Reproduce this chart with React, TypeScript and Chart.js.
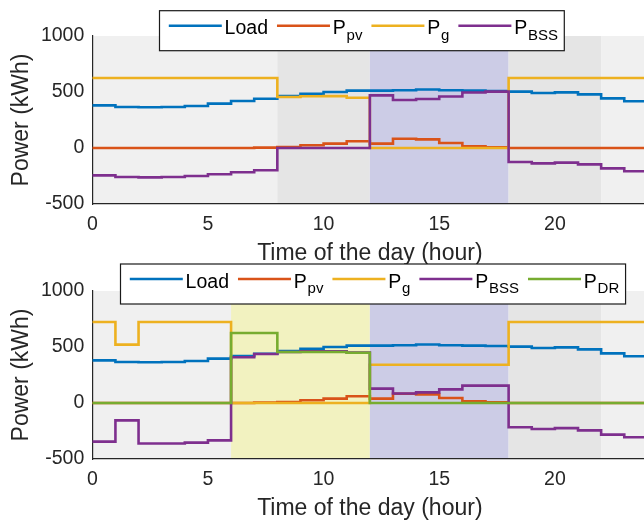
import React, { useEffect, useRef } from "react";
import { Chart, registerables } from "chart.js";

Chart.register(...registerables);

// ---------- data ----------
const hours = [0, 1, 2, 3, 4, 5, 6, 7, 8, 9, 10, 11, 12, 13, 14, 15, 16, 17, 18, 19, 20, 21, 22, 23, 24];
const xTickValues = [0, 5, 10, 15, 20];
const yTickValues = [-500, 0, 500, 1000];

const loadDemand = [381, 366, 364, 366, 375, 396, 420, 440, 464, 485, 500, 512, 512, 515, 522, 516, 512, 509, 503, 491, 497, 479, 443, 417];
const pvPower = [0, 0, 0, 0, 0, 0, 0, 3, 9, 24, 39, 60, 39, 83, 77, 45, 15, 6, 0, 0, 0, 0, 0, 0];

const gridTop = [625, 625, 625, 625, 625, 625, 625, 625, 455, 462, 463, 448, 0, 0, 0, 0, 0, 0, 625, 625, 625, 625, 625, 625];
const bssTop = [-244, -259, -262, -259, -250, -235, -217, -199, 0, 0, 0, 0, 470, 428, 438, 460, 495, 503, -125, -137, -131, -146, -182, -208];

const gridBottom = [723, 521, 723, 723, 723, 723, 0, 0, 0, 0, 0, 0, 342, 342, 342, 342, 342, 342, 723, 723, 723, 723, 723, 723];
const bssBottom = [-345, -155, -362, -362, -354, -334, 408, 437, 455, 461, 462, 450, 128, 85, 95, 122, 155, 155, -216, -232, -224, -244, -282, -306];
const drBottom = [0, 0, 0, 0, 0, 0, 625, 625, 455, 455, 455, 448, 0, 0, 0, 0, 0, 0, 0, 0, 0, 0, 0, 0];

// shaded periods [start hour, end hour, colour]
const bandsTop: [number, number, string][] = [
  [0, 8, "#f0f0f0"],
  [8, 12, "#e5e5e5"],
  [12, 18, "#ccccE6"],
  [18, 22, "#e5e5e5"],
  [22, 24, "#f0f0f0"],
];
const bandsBottom: [number, number, string][] = [
  [0, 6, "#f0f0f0"],
  [6, 12, "#f2f2c0"],
  [12, 18, "#ccccE6"],
  [18, 22, "#e5e5e5"],
  [22, 24, "#f0f0f0"],
];

const C_LOAD = "#0072BD";
const C_PV = "#D95319";
const C_G = "#EDB120";
const C_BSS = "#7E2F8E";
const C_DR = "#77AC30";

const FAMILY = '"Liberation Sans", Arial, Helvetica, sans-serif';
const TEXT = "#262626";

type Series = { main: string; sub: string; color: string; values: number[] };

const seriesTop: Series[] = [
  { main: "Load", sub: "", color: C_LOAD, values: loadDemand },
  { main: "P", sub: "pv", color: C_PV, values: pvPower },
  { main: "P", sub: "g", color: C_G, values: gridTop },
  { main: "P", sub: "BSS", color: C_BSS, values: bssTop },
];
const seriesBottom: Series[] = [
  { main: "Load", sub: "", color: C_LOAD, values: loadDemand },
  { main: "P", sub: "pv", color: C_PV, values: pvPower },
  { main: "P", sub: "g", color: C_G, values: gridBottom },
  { main: "P", sub: "BSS", color: C_BSS, values: bssBottom },
  { main: "P", sub: "DR", color: C_DR, values: drBottom },
];

function stairs(values: number[]) {
  return hours.map((h, i) => ({ x: h, y: values[Math.min(i, values.length - 1)] }));
}

const CANVAS_W = 660;
const CANVAS_H = 266;

function drawLegend(ctx: CanvasRenderingContext2D, items: Series[], left: number, top: number) {
  const mainFont = `19.5px ${FAMILY}`;
  const subFont = `15px ${FAMILY}`;
  const lineLen = 53;
  const gapText = 2.8;
  const gapItems = 9;
  const padL = 9.3;
  const padR = 6.3;
  const boxH = 40;
  let x = left + padL;
  const layout: any[] = [];
  for (const it of items) {
    const lineStart = x;
    const textX = x + lineLen + gapText;
    ctx.font = mainFont;
    const w = ctx.measureText(it.main).width;
    const subX = textX + w + (it.sub ? 0.8 : 0);
    ctx.font = subFont;
    const sw = it.sub ? ctx.measureText(it.sub).width : 0;
    const end = subX + sw;
    layout.push({ it, lineStart, textX, subX });
    x = end + gapItems;
  }
  const right = x - gapItems + padR;
  ctx.save();
  ctx.fillStyle = "#ffffff";
  ctx.fillRect(left, top, right - left, boxH);
  ctx.strokeStyle = "#1a1a1a";
  ctx.lineWidth = 1.2;
  ctx.strokeRect(left, top, right - left, boxH);
  for (const l of layout) {
    ctx.strokeStyle = l.it.color;
    ctx.lineWidth = 2.6;
    ctx.beginPath();
    ctx.moveTo(l.lineStart, top + 15);
    ctx.lineTo(l.lineStart + lineLen, top + 15);
    ctx.stroke();
    ctx.fillStyle = "#000000";
    ctx.textAlign = "left";
    ctx.textBaseline = "alphabetic";
    ctx.font = mainFont;
    ctx.fillText(l.it.main, l.textX, top + 23.6);
    if (l.it.sub) {
      ctx.font = subFont;
      ctx.fillText(l.it.sub, l.subX, top + 29.3);
    }
  }
  ctx.restore();
}

function makeConfig(series: Series[], bands: [number, number, string][], legendLeft: number, legendTop: number): any {
  const bandPlugin = {
    id: "bands",
    beforeDraw(chart: any) {
      const { ctx, chartArea, scales } = chart;
      const xs = scales.x;
      ctx.save();
      for (const [a, b, col] of bands) {
        const x0 = xs.getPixelForValue(a);
        const x1 = xs.getPixelForValue(b);
        ctx.fillStyle = col;
        ctx.fillRect(x0, chartArea.top, x1 - x0, chartArea.bottom - chartArea.top);
      }
      ctx.restore();
    },
  };
  const overlayPlugin = {
    id: "overlay",
    afterDraw(chart: any) {
      const { ctx, chartArea } = chart;
      ctx.save();
      ctx.fillStyle = TEXT;
      ctx.font = `23px ${FAMILY}`;
      ctx.textAlign = "center";
      ctx.textBaseline = "alphabetic";
      ctx.fillText("Time of the day (hour)", (chartArea.left + chartArea.right) / 2, 260.3);
      ctx.translate(28, (chartArea.top + chartArea.bottom) / 2);
      ctx.rotate(-Math.PI / 2);
      ctx.fillText("Power (kWh)", 0, 0);
      ctx.restore();
      drawLegend(ctx, series, legendLeft, legendTop);
    },
  };
  const n = series.length;
  return {
    type: "line",
    data: {
      datasets: series.map((s, i) => ({
        label: s.main + s.sub,
        data: stairs(s.values),
        borderColor: s.color,
        backgroundColor: s.color,
        borderWidth: 2.6,
        pointRadius: 0,
        stepped: "before",
        fill: false,
        order: n - i,
        borderCapStyle: "butt",
        borderJoinStyle: "miter",
      })),
    },
    options: {
      animation: false,
      responsive: false,
      maintainAspectRatio: false,
      events: [],
      layout: { padding: { left: 0, top: 36, right: CANVAS_W - 647.4, bottom: 0 } },
      plugins: { legend: { display: false }, tooltip: { enabled: false }, title: { display: false } },
      scales: {
        x: {
          type: "linear",
          min: 0,
          max: 24,
          afterBuildTicks: (s: any) => {
            s.ticks = xTickValues.map((v) => ({ value: v }));
          },
          ticks: {
            color: TEXT,
            font: { family: FAMILY, size: 19.5 },
            padding: 9,
            maxRotation: 0,
            autoSkip: false,
            callback: (v: any) => String(v),
          },
          grid: { display: false, drawTicks: false },
          border: { display: true, color: TEXT, width: 1.2 },
          afterFit: (s: any) => {
            s.height = CANVAS_H - 204;
          },
        },
        y: {
          type: "linear",
          min: -500,
          max: 1000,
          afterBuildTicks: (s: any) => {
            s.ticks = yTickValues.map((v) => ({ value: v }));
          },
          ticks: {
            color: TEXT,
            font: { family: FAMILY, size: 19.5 },
            padding: 8,
            callback: (v: any) => String(v),
          },
          grid: { display: false, drawTicks: false },
          border: { display: true, color: TEXT, width: 1.2 },
          afterFit: (s: any) => {
            s.width = 92.3;
          },
        },
      },
    },
    plugins: [bandPlugin, overlayPlugin],
  };
}

function ChartCanvas(props: { series: Series[]; bands: [number, number, string][]; legendLeft: number; legendTop: number; top: number }) {
  const ref = useRef<HTMLCanvasElement | null>(null);
  useEffect(() => {
    if (!ref.current) return;
    const chart = new Chart(ref.current, makeConfig(props.series, props.bands, props.legendLeft, props.legendTop));
    return () => chart.destroy();
  }, []);
  return (
    <canvas
      ref={ref}
      width={CANVAS_W}
      height={CANVAS_H}
      style={{ position: "absolute", left: 0, top: props.top, width: CANVAS_W, height: CANVAS_H }}
    />
  );
}

export default function App() {
  return (
    <div style={{ position: "fixed", left: 0, top: 0, width: 644, height: 521, overflow: "hidden", background: "#ffffff" }}>
      <ChartCanvas series={seriesTop} bands={bandsTop} legendLeft={159.5} legendTop={10.7} top={0} />
      <ChartCanvas series={seriesBottom} bands={bandsBottom} legendLeft={120.5} legendTop={9} top={255} />
    </div>
  );
}
